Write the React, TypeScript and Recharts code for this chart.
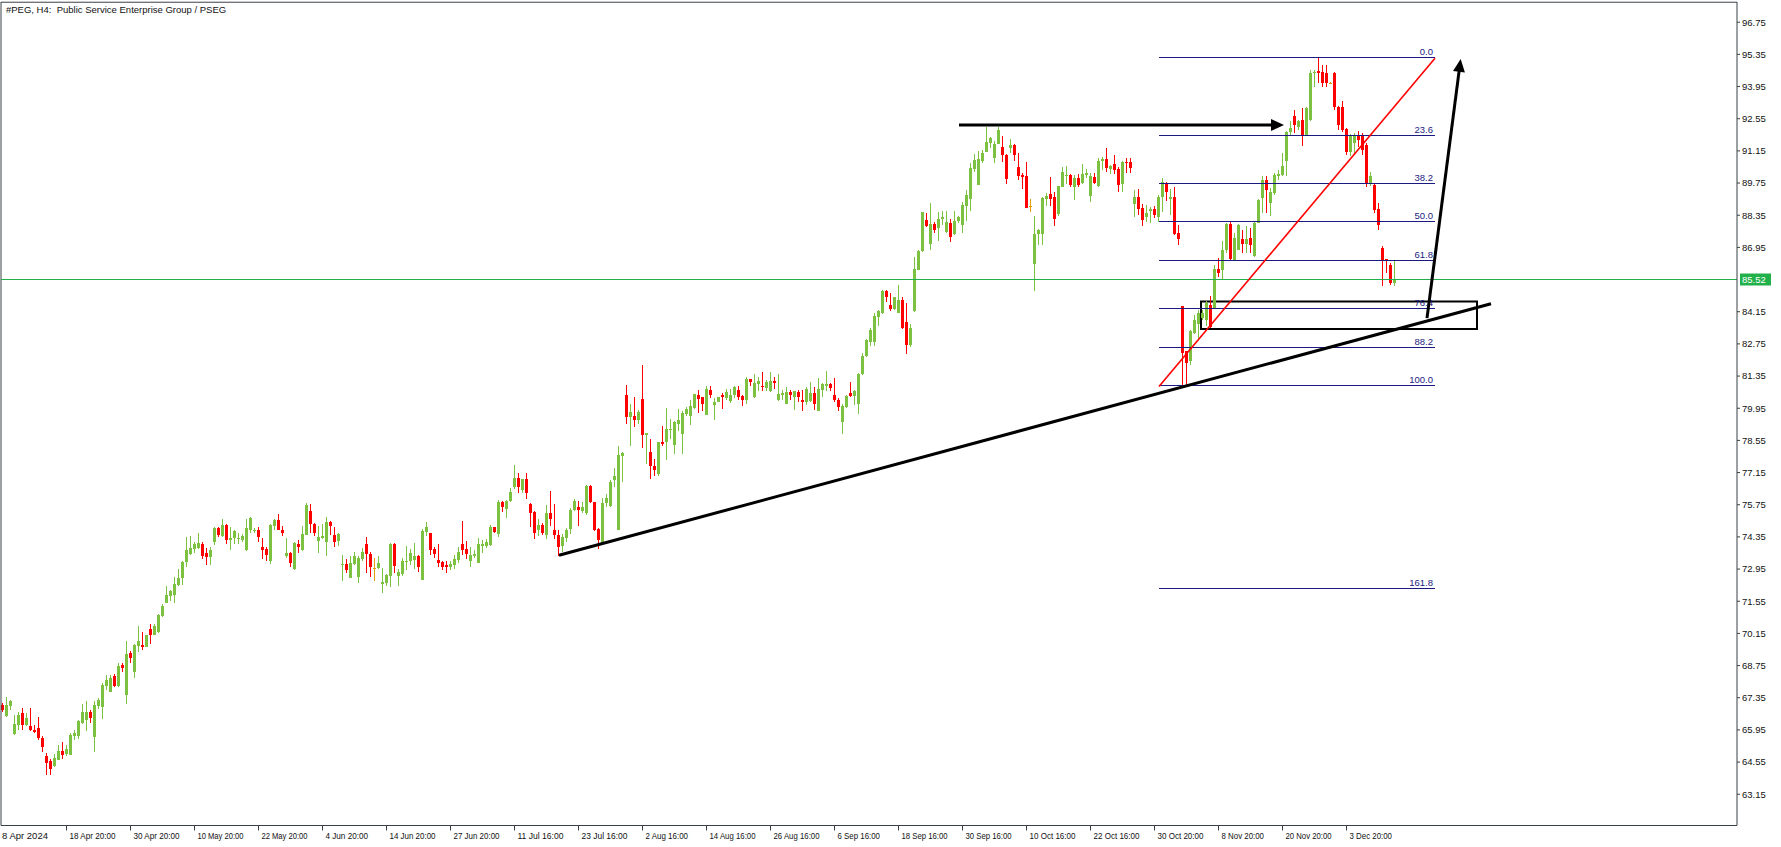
import React from "react";
import { ComposedChart, Bar, XAxis, YAxis, ReferenceLine, ReferenceArea } from "recharts";

// ---------- candle data (H4 bars, oldest first) ----------
const opens = [
  67.04, 66.54, 67.01, 65.78, 66.17, 66.68, 66.17, 66.13, 65.96, 66.04,
  65.61, 64.82, 64.58, 64.36, 64.65, 65.04, 64.91, 64.87, 65.69, 65.69,
  66.25, 66.39, 66.75, 65.62, 67.0, 66.93, 67.87, 67.59, 68.28, 67.84,
  68.78, 67.48, 69.28, 68.49, 69.61, 69.65, 69.58, 70.35, 70.09, 70.19,
  70.91, 71.49, 71.76, 71.8, 72.26, 72.55, 73.25, 73.62, 73.83, 73.85,
  74.05, 73.67, 73.46, 74.11, 74.75, 74.4, 74.88, 74.2, 74.3, 74.25,
  74.2, 73.76, 74.66, 74.59, 74.63, 73.92, 73.83, 73.31, 74.83, 75.1,
  74.66, 73.5, 73.64, 72.94, 74.05, 73.78, 74.44, 75.48, 74.9, 74.19,
  74.31, 74.15, 75.0, 74.44, 74.19, 73.13, 73.18, 72.58, 73.18, 72.62,
  73.39, 74.05, 73.61, 73.0, 72.99, 72.31, 72.36, 72.67, 74.05, 72.67,
  72.73, 73.25, 73.28, 73.35, 73.52, 72.48, 74.58, 74.51, 73.83, 73.35,
  73.25, 73.13, 73.02, 73.13, 73.35, 74.05, 73.83, 73.32, 73.54, 73.23,
  73.96, 73.96, 74.0, 74.77, 74.48, 75.89, 75.57, 75.92, 76.54, 76.93,
  76.37, 76.87, 75.79, 75.45, 74.63, 74.87, 74.44, 75.41, 74.66, 74.44,
  73.96, 74.32, 74.7, 75.5, 75.67, 75.46, 75.38, 76.57, 75.85, 74.69,
  74.08, 75.82, 75.7, 76.84, 74.66, 77.89, 80.53, 79.55, 79.62, 79.42,
  80.36, 78.79, 78.04, 77.44, 77.1, 78.49, 78.49, 79.02, 78.36, 79.27,
  78.84, 79.71, 79.63, 79.95, 80.52, 80.42, 79.66, 80.75, 80.1, 80.24,
  80.53, 80.39, 80.27, 80.53, 80.75, 80.49, 80.29, 81.23, 80.42, 81.01,
  80.92, 80.82, 80.68, 81.14, 80.29, 80.53, 80.14, 80.66, 80.42, 80.66,
  80.32, 80.24, 80.27, 80.61, 79.85, 80.75, 80.92, 81.01, 80.53, 80.32,
  79.33, 80.0, 80.63, 80.49, 80.14, 81.43, 82.23, 82.85, 82.82, 83.94,
  84.09, 85.06, 84.45, 84.27, 84.11, 84.67, 83.72, 82.71, 84.19, 85.97,
  86.81, 88.15, 87.1, 87.97, 87.81, 88.19, 87.62, 88.0, 87.52, 88.1,
  87.93, 88.75, 89.04, 90.35, 89.67, 90.73, 91.12, 91.51, 90.83, 91.45,
  91.34, 90.97, 91.29, 91.41, 90.44, 90.1, 90.06, 88.74, 86.23, 87.54,
  87.54, 89.04, 89.28, 89.16, 88.41, 89.6, 90.06, 90.1, 89.56, 89.96,
  89.77, 90.1, 89.19, 90.03, 89.62, 90.73, 90.78, 90.35, 90.58, 90.36,
  89.71, 90.68, 90.68, 88.84, 89.13, 88.68, 88.29, 88.54, 88.61, 88.29,
  89.13, 89.77, 89.04, 89.13, 87.57, 84.38, 82.42, 81.99, 83.22, 83.6,
  83.87, 83.8, 84.45, 84.31, 86.0, 85.98, 86.85, 87.98, 86.41, 86.85,
  87.31, 87.11, 87.35, 86.56, 88.03, 89.09, 89.89, 88.9, 89.31, 90.04,
  90.11, 90.69, 91.99, 92.67, 92.18, 92.5, 91.85, 92.5, 94.53, 94.63,
  94.6, 94.53, 94.1, 94.53, 93.08, 93.08, 92.09, 91.12, 91.49, 91.85,
  91.78, 91.41, 89.75, 89.67, 88.61, 86.92, 86.44, 86.19, 85.42,
];

const highs = [
  67.1, 67.4, 67.26, 66.61, 66.72, 66.9, 66.68, 66.9, 66.17, 66.51,
  65.67, 64.94, 64.69, 64.9, 65.29, 65.42, 65.3, 65.81, 65.96, 66.36,
  67.09, 67.22, 66.8, 67.22, 67.36, 67.99, 68.35, 68.35, 68.39, 68.88,
  68.86, 69.83, 69.39, 69.7, 70.48, 70.22, 70.1, 70.57, 70.55, 71.0,
  71.44, 72.22, 72.05, 72.6, 72.96, 73.29, 74.35, 74.4, 74.11, 74.52,
  74.14, 73.86, 73.93, 74.78, 74.78, 75.12, 74.92, 74.78, 74.66, 74.54,
  74.49, 75.12, 75.2, 74.72, 74.78, 74.31, 73.91, 74.92, 75.12, 75.36,
  74.83, 74.29, 73.71, 74.15, 74.22, 74.83, 75.84, 75.79, 74.97, 74.83,
  74.92, 75.21, 75.06, 74.77, 74.51, 73.57, 73.38, 73.52, 73.7, 73.5,
  73.86, 74.34, 73.71, 73.45, 73.52, 72.99, 72.72, 74.07, 74.08, 72.94,
  73.42, 73.96, 73.81, 74.08, 73.57, 74.68, 75.0, 74.54, 73.9, 74.05,
  73.32, 73.32, 73.32, 73.57, 73.9, 75.06, 74.18, 73.9, 73.78, 74.29,
  74.22, 74.25, 74.87, 74.79, 75.96, 75.93, 75.94, 76.47, 77.48, 77.12,
  76.89, 77.15, 75.84, 75.48, 75.12, 74.95, 75.74, 76.35, 75.79, 74.66,
  74.48, 74.73, 75.6, 76.0, 75.92, 75.89, 76.59, 76.62, 75.87, 74.73,
  76.04, 76.23, 76.84, 77.37, 78.31, 78.05, 80.97, 80.14, 80.46, 79.88,
  81.84, 78.89, 78.62, 77.73, 78.5, 79.18, 79.98, 79.47, 79.4, 79.92,
  79.81, 80.0, 80.32, 80.59, 80.75, 80.46, 80.9, 80.9, 80.39, 80.43,
  80.63, 80.79, 80.79, 80.9, 80.92, 80.52, 81.29, 81.24, 81.45, 81.29,
  81.53, 81.19, 81.52, 81.3, 81.45, 80.75, 80.87, 80.75, 80.7, 80.75,
  80.75, 80.87, 81.11, 80.87, 81.26, 81.07, 81.58, 81.07, 81.26, 80.39,
  80.13, 80.51, 81.1, 80.75, 81.5, 82.35, 82.95, 83.43, 84.11, 84.23,
  85.1, 85.1, 84.98, 84.81, 85.32, 84.77, 84.52, 83.62, 86.55, 86.84,
  88.51, 88.46, 88.87, 88.04, 88.51, 88.54, 88.54, 88.19, 88.54, 88.32,
  88.94, 89.45, 90.64, 91.02, 91.16, 91.19, 92.21, 91.74, 91.6, 92.21,
  91.8, 91.0, 91.65, 91.45, 91.05, 90.18, 90.65, 89.04, 88.32, 87.73,
  89.16, 89.31, 90.03, 89.38, 89.64, 90.44, 90.49, 90.15, 90.1, 90.15,
  90.58, 90.35, 90.18, 90.18, 90.83, 90.9, 91.29, 90.54, 90.97, 90.47,
  90.73, 90.83, 90.83, 89.45, 89.49, 88.83, 88.8, 88.7, 88.73, 89.23,
  89.96, 89.81, 89.49, 89.56, 87.93, 84.4, 82.45, 83.37, 84.02, 84.23,
  84.23, 84.6, 84.82, 86.19, 86.48, 87.21, 88.03, 88.08, 87.57, 87.98,
  87.72, 87.86, 87.79, 88.08, 89.05, 90.04, 90.04, 89.53, 90.18, 90.33,
  91.08, 92.01, 92.43, 92.93, 92.5, 93.01, 93.08, 94.67, 94.67, 95.18,
  94.89, 94.89, 94.13, 94.6, 93.11, 93.3, 92.14, 91.89, 91.92, 92.0,
  91.92, 91.49, 90.21, 89.72, 88.87, 87.02, 86.46, 86.27, 86.41,
];

const lows = [
  66.75, 66.5, 66.8, 65.71, 65.96, 65.93, 66.1, 65.9, 65.81, 65.49,
  64.97, 63.99, 63.99, 64.33, 64.62, 64.69, 64.82, 64.85, 65.49, 65.56,
  66.22, 65.9, 66.25, 65.01, 66.88, 66.43, 67.7, 67.58, 67.82, 67.82,
  68.45, 67.09, 68.86, 68.23, 69.32, 69.41, 69.56, 69.7, 70.07, 70.17,
  70.88, 71.47, 71.54, 71.49, 72.22, 72.26, 73.03, 73.58, 73.65, 73.83,
  73.38, 73.14, 73.14, 74.01, 74.34, 74.34, 74.05, 73.79, 74.05, 74.05,
  74.15, 73.74, 74.54, 74.54, 74.11, 73.4, 73.28, 73.18, 74.66, 74.64,
  74.39, 73.42, 73.06, 72.92, 73.67, 73.74, 74.44, 74.54, 74.41, 73.67,
  74.28, 73.54, 74.44, 73.93, 73.96, 72.41, 72.77, 72.56, 73.13, 72.36,
  73.32, 72.8, 72.62, 72.45, 72.94, 71.9, 72.23, 72.19, 72.8, 72.23,
  72.65, 72.89, 73.13, 72.94, 72.84, 72.46, 74.41, 73.57, 73.42, 73.06,
  72.92, 72.8, 72.89, 72.94, 73.23, 73.57, 73.39, 73.02, 73.42, 73.21,
  73.67, 73.86, 73.96, 74.54, 74.34, 75.45, 75.19, 75.89, 76.42, 76.28,
  76.28, 76.0, 74.8, 74.25, 74.41, 74.44, 74.25, 74.83, 74.25, 73.52,
  73.71, 74.15, 74.47, 75.48, 74.84, 75.38, 75.31, 75.82, 74.59, 73.82,
  74.06, 75.67, 75.67, 76.54, 74.64, 76.76, 79.27, 78.29, 79.13, 79.27,
  78.24, 77.53, 76.86, 76.98, 77.02, 78.31, 77.68, 78.6, 77.95, 78.97,
  77.97, 79.63, 79.23, 79.92, 79.76, 79.81, 79.64, 80.39, 79.45, 80.2,
  79.92, 80.32, 80.17, 80.39, 80.32, 80.05, 80.14, 80.9, 80.4, 80.68,
  80.72, 80.72, 80.66, 80.79, 80.27, 80.32, 80.12, 80.32, 79.88, 80.2,
  79.85, 80.1, 80.24, 79.88, 79.83, 80.43, 80.72, 80.72, 80.21, 79.85,
  78.84, 79.98, 80.43, 80.07, 79.71, 81.41, 82.2, 82.64, 82.64, 83.55,
  84.06, 84.56, 84.19, 84.23, 84.09, 83.38, 82.32, 82.63, 84.15, 85.95,
  86.77, 87.83, 86.84, 87.59, 87.25, 87.93, 87.59, 87.2, 87.5, 88.0,
  87.59, 88.12, 88.55, 90.25, 89.65, 90.64, 91.1, 91.26, 90.61, 91.43,
  90.68, 89.71, 91.05, 90.73, 89.89, 89.49, 88.66, 88.51, 85.06, 87.06,
  87.06, 88.73, 88.75, 87.86, 88.32, 89.57, 89.71, 89.6, 89.02, 89.6,
  89.71, 89.96, 88.94, 89.71, 89.6, 90.32, 90.25, 90.15, 90.15, 89.38,
  89.38, 90.18, 90.18, 88.29, 88.36, 87.88, 88.07, 88.0, 88.22, 88.07,
  88.51, 88.99, 88.36, 87.5, 87.06, 80.9, 80.97, 81.84, 83.2, 82.9,
  83.8, 83.51, 83.46, 84.29, 85.66, 85.54, 86.7, 86.42, 86.34, 86.83,
  86.7, 86.7, 86.7, 86.54, 88.0, 88.44, 88.44, 88.3, 89.24, 89.89,
  90.04, 90.04, 91.78, 91.92, 92.07, 91.37, 91.83, 92.43, 93.95, 94.1,
  93.95, 93.92, 94.08, 92.93, 92.07, 91.99, 90.98, 90.91, 90.98, 91.31,
  90.98, 89.6, 89.63, 88.44, 87.69, 85.25, 85.83, 85.32, 85.28,
];

const closes = [
  66.8, 67.04, 67.23, 66.22, 66.61, 66.17, 66.48, 65.93, 65.88, 65.59,
  65.19, 64.53, 64.26, 64.72, 65.04, 64.87, 65.13, 65.74, 65.8, 66.33,
  66.74, 66.71, 66.49, 67.04, 67.26, 67.91, 68.13, 68.23, 67.84, 68.74,
  68.64, 69.26, 69.09, 69.65, 69.83, 69.58, 70.09, 70.09, 70.48, 70.96,
  71.35, 71.83, 72.0, 72.31, 72.55, 73.25, 73.8, 73.86, 74.05, 74.08,
  73.5, 73.46, 73.79, 74.72, 74.44, 74.88, 74.23, 74.31, 74.59, 74.3,
  74.37, 74.72, 75.18, 74.66, 74.34, 73.8, 73.57, 74.88, 75.1, 74.66,
  74.54, 73.64, 73.2, 74.08, 73.93, 74.47, 75.74, 74.9, 74.54, 74.34,
  74.37, 75.0, 74.83, 74.15, 74.47, 73.18, 72.89, 73.2, 73.5, 73.42,
  73.7, 73.61, 73.02, 73.0, 73.2, 72.38, 72.7, 74.05, 73.09, 72.81,
  73.31, 73.31, 73.64, 73.54, 73.02, 74.61, 74.77, 73.78, 73.6, 73.23,
  73.06, 73.02, 73.18, 73.39, 73.71, 73.78, 73.61, 73.57, 73.61, 74.05,
  74.05, 74.15, 74.8, 74.58, 75.89, 75.63, 75.92, 76.29, 76.93, 76.54,
  76.87, 76.28, 75.41, 74.54, 74.87, 74.54, 75.41, 75.13, 74.44, 73.93,
  74.34, 74.66, 75.53, 75.92, 75.5, 75.67, 76.57, 75.85, 74.66, 74.22,
  75.82, 76.04, 76.76, 77.01, 77.92, 78.01, 79.59, 79.78, 79.42, 79.79,
  78.79, 78.87, 77.42, 77.27, 78.49, 78.4, 79.05, 79.05, 79.33, 79.42,
  79.76, 79.91, 80.05, 80.58, 80.36, 80.14, 80.79, 80.53, 80.24, 80.42,
  80.42, 80.65, 80.53, 80.87, 80.46, 80.32, 81.23, 81.1, 81.04, 81.14,
  80.87, 81.08, 81.14, 81.07, 80.58, 80.62, 80.66, 80.52, 80.68, 80.42,
  80.24, 80.79, 80.61, 80.14, 80.79, 81.0, 81.0, 80.85, 80.29, 80.0,
  80.03, 80.49, 80.49, 80.71, 81.45, 82.23, 82.93, 83.36, 83.97, 84.19,
  85.06, 84.77, 84.27, 84.77, 84.67, 83.43, 82.71, 83.43, 86.01, 86.81,
  88.49, 87.86, 87.97, 87.71, 88.19, 88.29, 88.06, 87.42, 88.1, 88.29,
  88.8, 89.23, 90.39, 90.76, 90.78, 91.08, 91.54, 91.7, 91.45, 92.06,
  90.97, 89.93, 91.41, 90.97, 90.06, 90.03, 88.68, 88.74, 87.54, 87.71,
  89.12, 89.19, 89.04, 88.19, 89.62, 90.25, 90.1, 89.67, 89.96, 89.67,
  90.15, 90.2, 90.06, 89.77, 90.73, 90.78, 90.39, 90.49, 90.32, 89.67,
  90.68, 90.64, 90.42, 89.13, 88.62, 88.15, 88.46, 88.61, 88.36, 89.13,
  89.81, 89.38, 89.13, 87.54, 87.32, 82.35, 81.92, 83.29, 83.8, 84.09,
  84.09, 84.53, 83.48, 86.0, 85.83, 86.85, 87.98, 86.44, 87.35, 87.93,
  87.11, 87.31, 87.06, 88.03, 89.02, 89.89, 89.46, 89.34, 90.11, 90.15,
  90.5, 91.99, 92.14, 92.28, 92.43, 91.85, 93.01, 94.53, 94.6, 94.53,
  94.12, 94.1, 94.1, 93.04, 92.28, 92.07, 91.12, 91.85, 91.85, 91.63,
  91.2, 89.72, 90.06, 88.59, 87.93, 86.41, 86.41, 85.42, 85.52,
];

// ---------- axis labels ----------
const xLabels = [
  "8 Apr 2024", "18 Apr 20:00", "30 Apr 20:00", "10 May 20:00", "22 May 20:00",
  "4 Jun 20:00", "14 Jun 20:00", "27 Jun 20:00", "11 Jul 16:00", "23 Jul 16:00",
  "2 Aug 16:00", "14 Aug 16:00", "26 Aug 16:00", "6 Sep 16:00", "18 Sep 16:00",
  "30 Sep 16:00", "10 Oct 16:00", "22 Oct 16:00", "30 Oct 20:00", "8 Nov 20:00",
  "20 Nov 20:00", "3 Dec 20:00",
];
const LABEL_EVERY = 16;

const priceTicks = [
  63.15, 64.55, 65.95, 67.35, 68.75, 70.15, 71.55, 72.95, 74.35, 75.75,
  77.15, 78.55, 79.95, 81.35, 82.75, 84.15, 86.95, 88.35, 89.75, 91.15,
  92.55, 93.95, 95.35, 96.75,
];

const lastPrice = 85.52;
const Y_MIN = 61.79;
const Y_MAX = 97.63;

// ---------- drawing objects ----------
const fibLevels = [0, 23.6, 38.2, 50.0, 61.8, 76.4, 88.2, 100.0, 161.8];
const fibHigh = 95.18;
const fibLow = 80.9;
const fibStart = 289;
const fibEnd = 358;

const trendLine = [{ i: 139, p: 73.55 }, { i: 372, p: 84.5 }];
const redLine = [{ i: 289, p: 80.9 }, { i: 358, p: 95.18 }];
const hArrow = [{ i: 239, p: 92.28 }, { i: 317, p: 92.28 }];
const upArrow = [{ i: 356, p: 83.87 }, { i: 364, p: 94.59 }];
const zoneBox = { i1: 300, i2: 368, pLow: 83.4, pHigh: 84.59 };

const TOTAL_SLOTS = 434;

// ---------- styles ----------
const GREEN = "#7dc143";
const RED = "#ff0000";
const DOJI = "#e0a010";
const NAVY = "#1a1a80";
const PRICE_GREEN = "#22b04a";
const AXIS = "#3b4046";
const FONT = "'Liberation Sans', Arial, sans-serif";

const N = Math.min(opens.length, highs.length, lows.length, closes.length);
const chartData = Array.from({ length: TOTAL_SLOTS }, (_, i) =>
  i < N
    ? { i, o: opens[i], h: highs[i], l: lows[i], c: closes[i], range: [lows[i], highs[i]] }
    : { i }
);

const Candle = (props: any) => {
  const { x, y, width, height, index } = props;
  const d: any = props.payload && props.payload.o != null ? props.payload : chartData[index];
  if (!d || d.o == null || !isFinite(y) || !isFinite(height)) return null;
  const top = Math.min(y, y + height);
  const h = Math.abs(height);
  const span = d.h - d.l;
  const k = span > 0 ? h / span : 0;
  const yOf = (v: number) => top + (d.h - v) * k;
  const cx = Math.round(x + width / 2) - 1;
  const color = d.c > d.o ? GREEN : d.c < d.o ? RED : DOJI;
  const yo = yOf(d.o);
  const yc = yOf(d.c);
  const bt = Math.min(yo, yc);
  const bh = Math.max(Math.abs(yo - yc), 1);
  return (
    <g shapeRendering="crispEdges">
      <rect x={cx} y={top} width={1} height={Math.max(h, 1)} fill={color} />
      <rect x={cx - 1} y={bt} width={3} height={bh} fill={color} />
    </g>
  );
};

const XTick = (props: any) => {
  const { x, y, payload } = props;
  const v = Number(payload && payload.value);
  if (!isFinite(v) || v % LABEL_EVERY !== 0) return <g />;
  const k = v / LABEL_EVERY;
  if (k >= xLabels.length) return <g />;
  const label = xLabels[k];
  if (k === 0) {
    return (
      <text x={2} y={y + 13.5} fontSize={9.5} fontFamily={FONT} fill="#111">
        {label}
      </text>
    );
  }
  const px = Math.round(x) - 0.5;
  const tl = label.length >= 12 ? 46 : 42.5;
  return (
    <g>
      <line x1={px} y1={y} x2={px} y2={y + 5} stroke={AXIS} strokeWidth={1} />
      <text
        x={px + 3}
        y={y + 13.5}
        fontSize={9.5}
        fontFamily={FONT}
        fill="#111"
        textLength={tl}
        lengthAdjust="spacingAndGlyphs"
      >
        {label}
      </text>
    </g>
  );
};

const PriceLine = (p: any) => {
  const yy = Math.round(p.y1) - 0.5;
  const left = Math.min(p.x1, p.x2);
  const right = Math.max(p.x1, p.x2);
  return (
    <g>
      <line x1={left} y1={yy} x2={right} y2={yy} stroke={PRICE_GREEN} strokeWidth={1} />
      <rect x={right + 3} y={yy - 6} width={31} height={12} fill={PRICE_GREEN} />
      <text x={right + 5} y={yy + 3.5} fontSize={9.5} fontFamily={FONT} fill="#ffffff">
        {lastPrice.toFixed(2)}
      </text>
    </g>
  );
};

const makeFibShape = (text: string) => (p: any) => {
  const yy = Math.round(p.y1) - 0.5;
  return (
    <g>
      <line x1={p.x1} y1={yy} x2={p.x2} y2={yy} stroke={NAVY} strokeWidth={1} />
      <text
        x={Math.max(p.x1, p.x2) - 2}
        y={yy - 3}
        textAnchor="end"
        fontSize={9.5}
        fontFamily={FONT}
        fill={NAVY}
      >
        {text}
      </text>
    </g>
  );
};

const ArrowShape = (p: any) => {
  const { x1, y1, x2, y2 } = p;
  const dx = x2 - x1;
  const dy = y2 - y1;
  const len = Math.hypot(dx, dy) || 1;
  const ux = dx / len;
  const uy = dy / len;
  const nx = -uy;
  const ny = ux;
  const head = 13;
  const half = 6;
  const tipX = x2 + ux * head;
  const tipY = y2 + uy * head;
  return (
    <g>
      <line x1={x1} y1={y1} x2={x2 + ux * 2} y2={y2 + uy * 2} stroke="#000" strokeWidth={3} />
      <polygon
        points={`${x2 + nx * half},${y2 + ny * half} ${tipX},${tipY} ${x2 - nx * half},${y2 - ny * half}`}
        fill="#000"
      />
    </g>
  );
};

export default function App() {
  return (
    <div
      style={{
        position: "absolute",
        left: 0,
        top: 0,
        width: 1781,
        height: 847,
        background: "#ffffff",
        overflow: "hidden",
      }}
    >
      <ComposedChart
        width={1781}
        height={847}
        data={chartData}
        margin={{ top: 2, right: 0, bottom: 0, left: 1 }}
      >
        <XAxis
          dataKey="i"
          type="category"
          interval={LABEL_EVERY - 1}
          height={21.5}
          tickSize={0}
          tickMargin={0}
          axisLine={{ stroke: AXIS }}
          tickLine={false}
          tick={<XTick />}
        />
        <YAxis
          orientation="right"
          type="number"
          domain={[Y_MIN, Y_MAX]}
          allowDataOverflow
          ticks={priceTicks}
          interval={0}
          width={44}
          tickSize={3}
          tickMargin={2}
          axisLine={{ stroke: AXIS }}
          tickLine={{ stroke: AXIS }}
          tick={{ fontSize: 9.5, fontFamily: FONT, fill: "#111" }}
          tickFormatter={(v: number) => v.toFixed(2)}
        />
        <ReferenceLine y={Y_MAX - 0.01} stroke={AXIS} />
        <ReferenceLine x={0} position="start" stroke={AXIS} />
        {fibLevels.map((lvl) => {
          const p = fibHigh - (lvl / 100) * (fibHigh - fibLow);
          return (
            <ReferenceLine
              key={"fib" + lvl}
              segment={[
                { x: fibStart, y: p },
                { x: fibEnd, y: p },
              ]}
              stroke={NAVY}
              shape={makeFibShape(lvl.toFixed(1))}
            />
          );
        })}
        <ReferenceLine y={lastPrice} stroke={PRICE_GREEN} shape={PriceLine} />
        <Bar dataKey="range" shape={Candle} isAnimationActive={false} />
        <ReferenceLine
          segment={[
            { x: redLine[0].i, y: redLine[0].p },
            { x: redLine[1].i, y: redLine[1].p },
          ]}
          stroke={RED}
          strokeWidth={1.6}
        />
        <ReferenceArea
          x1={zoneBox.i1}
          x2={zoneBox.i2}
          y1={zoneBox.pLow}
          y2={zoneBox.pHigh}
          fill="none"
          fillOpacity={0}
          stroke="#000"
          strokeWidth={2}
        />
        <ReferenceLine
          segment={[
            { x: trendLine[0].i, y: trendLine[0].p },
            { x: trendLine[1].i, y: trendLine[1].p },
          ]}
          stroke="#000"
          strokeWidth={3}
        />
        <ReferenceLine
          segment={[
            { x: hArrow[0].i, y: hArrow[0].p },
            { x: hArrow[1].i, y: hArrow[1].p },
          ]}
          stroke="#000"
          shape={ArrowShape}
        />
        <ReferenceLine
          segment={[
            { x: upArrow[0].i, y: upArrow[0].p },
            { x: upArrow[1].i, y: upArrow[1].p },
          ]}
          stroke="#000"
          shape={ArrowShape}
        />
      </ComposedChart>
      <div
        style={{
          position: "absolute",
          left: 6,
          top: 4,
          fontFamily: FONT,
          fontSize: 9.5,
          lineHeight: "11px",
          color: "#111",
          whiteSpace: "pre",
        }}
      >
        {"#PEG, H4:  Public Service Enterprise Group / PSEG"}
      </div>
    </div>
  );
}
